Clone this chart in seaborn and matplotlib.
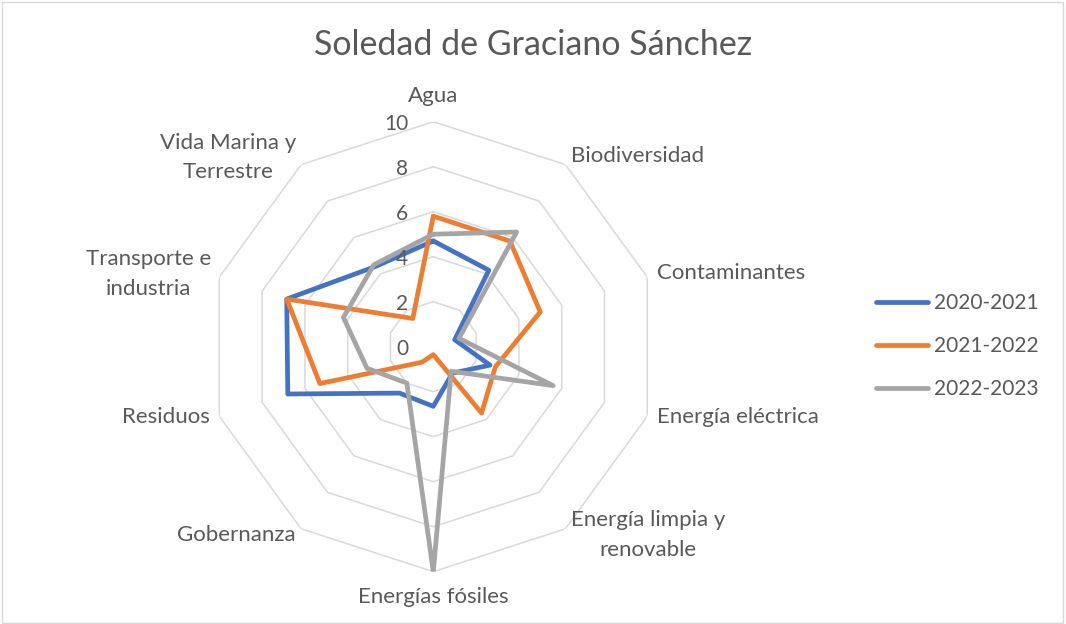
import numpy as np
import pandas as pd
import matplotlib
matplotlib.use("Agg")
import matplotlib.pyplot as plt
from matplotlib.patches import Rectangle
import seaborn as sns

# Categories (clockwise from the top) and yearly scores
categories = ["Agua", "Biodiversidad", "Contaminantes", "Energía eléctrica",
              "Energía limpia y\nrenovable", "Energías fósiles", "Gobernanza",
              "Residuos", "Transporte e\nindustria", "Vida Marina y\nTerrestre"]
series_names = ["2020-2021", "2021-2022", "2022-2023"]
values_2020_2021 = [4.7, 4.2, 1.0, 2.65, 1.45, 2.65, 2.55, 6.8, 6.85, 4.4]
values_2021_2022 = [5.8, 5.8, 5.0, 2.9, 3.65, 0.35, 0.85, 5.3, 6.85, 1.55]
values_2022_2023 = [5.0, 6.3, 1.2, 5.6, 1.35, 10.0, 2.0, 3.1, 4.2, 4.5]
radial_ticks = [0, 2, 4, 6, 8, 10]
title = "Soledad de Graciano Sánchez"

colors = ["#4472C4", "#ED7D31", "#A5A5A5"]
text_color = "#595959"
grid_color = "#D9D9D9"

sns.set_theme(style="white")
plt.rcParams["font.family"] = ["Lato", "DejaVu Sans"]

n = len(categories)
theta = np.arange(n) * 2 * np.pi / n
theta_closed = np.append(theta, 2 * np.pi)

rows = []
for name, vals in zip(series_names, [values_2020_2021, values_2021_2022, values_2022_2023]):
    closed = list(vals) + [vals[0]]
    for t, v in zip(theta_closed, closed):
        rows.append({"theta": t, "value": v, "serie": name})
df = pd.DataFrame(rows)

W, H = 1066, 624
fig = plt.figure(figsize=(W / 100, H / 100), dpi=100)
fig.patch.set_facecolor("white")

cx, cy, R = 433.3, 346.7, 225.0
ax = fig.add_axes([(cx - R) / W, (H - cy - R) / H, 2 * R / W, 2 * R / H], projection="polar")
ax.set_theta_zero_location("N")
ax.set_theta_direction(-1)
ax.set_ylim(0, 10)
ax.grid(False)
ax.set_xticks([])
ax.set_yticks([])
ax.spines["polar"].set_visible(False)
ax.set_facecolor("white")

# Decagon rings
for v in radial_ticks[1:]:
    ax.plot(theta_closed, [v] * len(theta_closed), color=grid_color, lw=1.1, zorder=1)

sns.lineplot(data=df, x="theta", y="value", hue="serie", palette=colors,
             sort=False, estimator=None, linewidth=3.4, ax=ax, zorder=3,
             solid_joinstyle="round", solid_capstyle="round")
ax.set_xlabel("")
ax.set_ylabel("")
handles, labels = ax.get_legend_handles_labels()
if ax.get_legend() is not None:
    ax.get_legend().remove()

# Radial value labels
for v in radial_ticks:
    ax.annotate(str(v), xy=(0, v), xytext=(-25, -2), textcoords="offset pixels",
                ha="right", va="center", fontsize=15, color=text_color)

# Category labels around the outer ring
label_offsets = [(0, 26, "center"), (5, 9, "left"), (10, 4, "left"), (10, -1, "left"),
                 (5, -6, "left"), (0, -25, "center"), (-5, -6, "right"),
                 (-9, -1, "right"), (-8, 3, "right"), (-5, 7, "right")]
for t, lab, (dx, dy, ha) in zip(theta, categories, label_offsets):
    ax.annotate(lab, xy=(t, 10), xytext=(dx, dy), textcoords="offset pixels",
                ha=ha, va="center", multialignment="center",
                fontsize=16, color=text_color, linespacing=1.6)

fig.text(0.5, 1 - 45 / H, title, ha="center", va="center", fontsize=24.5, color=text_color)

leg = fig.legend(handles, labels, loc="center left", bbox_to_anchor=(875.5 / W, 1 - 346 / H),
                 frameon=False, fontsize=15, handlelength=2.5, handletextpad=0.31,
                 labelspacing=1.1, borderpad=0, borderaxespad=0)
for line in leg.get_lines():
    line.set_linewidth(3.4)
    line.set_solid_capstyle("round")
for txt in leg.get_texts():
    txt.set_color(text_color)

fig.patches.append(Rectangle((1.5 / W, 1.5 / H), (1063 - 1.5) / W, (622 - 1.5) / H,
                             transform=fig.transFigure, fill=False,
                             edgecolor=grid_color, lw=1.0))

fig.savefig("out.png", dpi=100, facecolor="white")
